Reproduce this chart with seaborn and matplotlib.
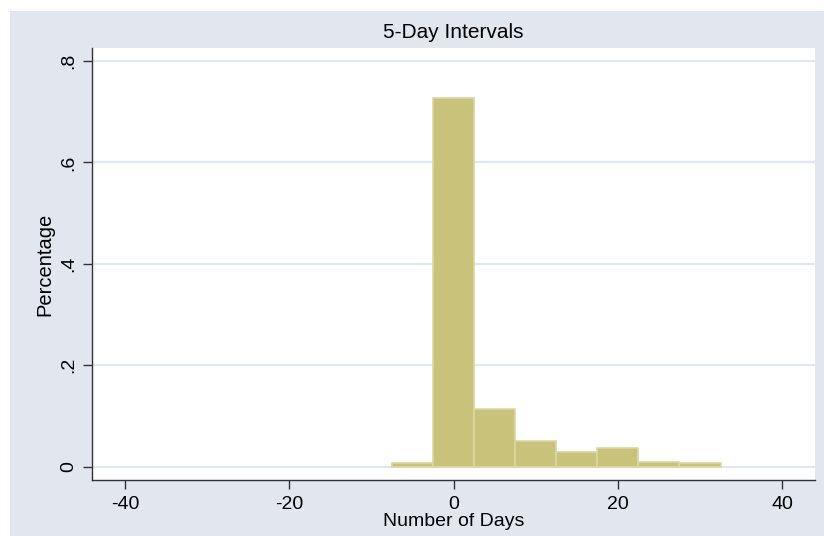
import matplotlib
matplotlib.use("Agg")
import matplotlib.pyplot as plt
from matplotlib.patches import Rectangle
import seaborn as sns
import numpy as np

bin_centers = [-5, 0, 5, 10, 15, 20, 25, 30]
fractions = [0.008, 0.727, 0.114, 0.050, 0.029, 0.036, 0.010, 0.008]
bin_width = 5
y_ticks = [0, 0.2, 0.4, 0.6, 0.8]
y_tick_labels = ["0", ".2", ".4", ".6", ".8"]
x_ticks = [-40, -20, 0, 20, 40]
x_tick_labels = ["-40", "-20", "0", "20", "40"]
title = "5-Day Intervals"
x_label = "Number of Days"
y_label = "Percentage"

sns.set_theme(style="white")
plt.rcParams["font.family"] = ["Liberation Sans", "DejaVu Sans"]

W, H = 824, 536
fig = plt.figure(figsize=(W / 100, H / 100), dpi=100)
fig.patch.set_facecolor("white")
bg = "#E1E6EF"
rect = Rectangle((10 / W, 0), 1 - 10 / W, (H - 11) / H,
                 transform=fig.transFigure, facecolor=bg,
                 edgecolor="none", zorder=-10)
fig.add_artist(rect)

ax = fig.add_axes([92 / W, (H - 480) / H, (815 - 92) / W, (480 - 48) / H])
ax.set_zorder(5)
ax.set_facecolor("white")

edges = [c - bin_width / 2 for c in bin_centers] + [bin_centers[-1] + bin_width / 2]
sns.histplot(x=bin_centers, weights=fractions, bins=edges, stat="count",
             color="#C9C27A", edgecolor="#DCD7A3", linewidth=1.2, alpha=1,
             ax=ax, zorder=3)

ax.set_xlim(-44.0, 44.0)
ax.set_ylim(-0.0262, 0.8256)

for yt in y_ticks:
    ax.axhline(yt, color=bg, lw=1.6, zorder=1)

ax.set_yticks(y_ticks)
ax.set_yticklabels(y_tick_labels, rotation=90, va="center")
ax.set_xticks(x_ticks)
ax.set_xticklabels(x_tick_labels)
ax.tick_params(axis="both", which="major", direction="out", length=6.5,
               width=1, color="#333333", labelsize=14, labelcolor="black",
               left=True, bottom=True)
ax.tick_params(axis="y", pad=4)
ax.tick_params(axis="x", pad=5)

for s in ["top", "right"]:
    ax.spines[s].set_visible(False)
for s in ["left", "bottom"]:
    ax.spines[s].set_color("#333333")
    ax.spines[s].set_linewidth(1)

ax.set_xlabel(x_label, fontsize=14, color="black")
ax.xaxis.label.set_va("center")
ax.xaxis.set_label_coords(0.5, (480 - 521) / 432)
ax.set_ylabel(y_label, fontsize=14.5, color="black")
ax.yaxis.label.set_va("center")
ax.yaxis.set_label_coords((45 - 92) / 723, 0.5)

fig.text(453.5 / W, (H - 32) / H, title, fontsize=15, ha="center",
         va="center", color="black")

fig.savefig("out.png", dpi=100)
